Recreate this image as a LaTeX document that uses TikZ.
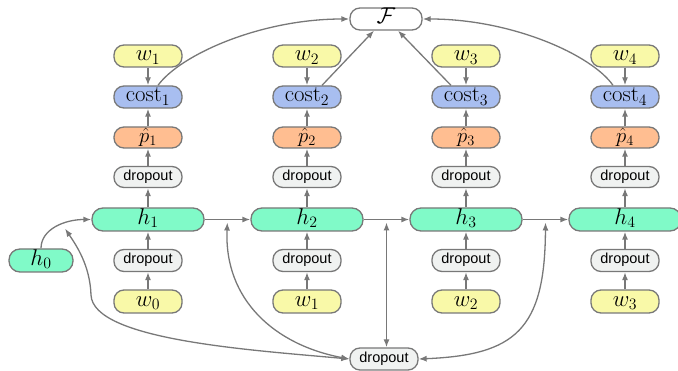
\documentclass[tikz,border=0pt]{standalone}
\usepackage{fontspec}
\usepackage{graphicx}
\newfontfamily\dropfont{Liberation Sans}
\usetikzlibrary{arrows.meta}
\pgfdeclarelayer{bg}
\pgfsetlayers{bg,main}
\definecolor{edgegray}{RGB}{120,120,120}
\definecolor{wyellow}{RGB}{249,249,168}
\definecolor{cblue}{RGB}{168,190,240}
\definecolor{porange}{RGB}{255,190,145}
\definecolor{dgray}{RGB}{240,242,241}
\definecolor{hgreen}{RGB}{128,250,200}
\newcommand{\mtxt}[1]{\scalebox{1.1}{$#1$}}
\begin{document}
\begin{tikzpicture}[x=1pt,y=1pt,
 box/.style={draw=edgegray, line width=1.3pt, rounded corners=10pt, minimum width=68pt, minimum height=22pt, inner sep=0pt, text height=15pt, text depth=5pt, font=\fontsize{20.74}{24}\selectfont},
 hbox/.style={box, fill=hgreen, minimum width=112pt, minimum height=23pt, rounded corners=11pt},
 wbox/.style={box, fill=wyellow},
 cbox/.style={box, fill=cblue},
 pbox/.style={draw=edgegray, line width=1.3pt, rounded corners=10pt, minimum width=68pt, minimum height=21pt, inner sep=0pt, fill=porange},
 dbox/.style={box, fill=dgray, font=\dropfont\fontsize{14.5}{17}\selectfont, text height=10.5pt, text depth=3.5pt, minimum height=21pt},
 fbox/.style={box, fill=white, minimum width=72pt},
 ptext/.style={inner sep=0pt, anchor=base, font=\fontsize{20.74}{24}\selectfont},
 arr/.style={draw=edgegray, line width=1.3pt, -{Latex[length=8pt,width=6pt]}},
 darr/.style={draw=edgegray, line width=1.3pt, {Latex[length=8pt,width=6pt]}-{Latex[length=8pt,width=6pt]}},
]
\useasboundingbox (0,0) rectangle (678,-371);

\node[fbox] (F) at (386,-19) {\mtxt{\mathcal{F}}};
\node[hbox, minimum width=64pt] (h0) at (41,-260.5) {\mtxt{h_0}};
\node[dbox, minimum height=22pt] (bd) at (384,-359) {dropout};

\foreach \i/\x/\j in {1/148/0, 2/307/1, 3/466/2, 4/625/3}{
  \node[wbox] (w\i) at (\x,-56) {\mtxt{w_\i}};
  \node[cbox] (c\i) at (\x,-97) {\mtxt{\mathrm{cost}_\i}};
  \node[pbox] (p\i) at (\x,-137.5) {};
  \node[ptext] (pt\i) at (\x,-142.5) {$\hat{p}_\i$};
  \node[dbox] (d\i) at (\x,-177) {dropout};
  \node[hbox] (h\i) at (\x,-219.5) {\mtxt{h_\i}};
  \node[dbox, minimum height=22pt] (e\i) at (\x,-260.5) {dropout};
  \node[wbox, minimum height=23pt] (v\i) at (\x,-301.5) {\mtxt{w_\j}};
  \begin{pgfonlayer}{bg}
  \draw[arr] (w\i) -- (c\i);
  \draw[arr] (p\i) -- (c\i);
  \draw[arr] (d\i) -- (p\i);
  \draw[arr] (h\i) -- (d\i);
  \draw[arr] (e\i) -- (h\i);
  \draw[arr] (v\i) -- (e\i);
  \end{pgfonlayer}
}

\begin{pgfonlayer}{bg}
% recurrent connections
\draw[arr] (h0.north) .. controls +(0,19) and +(-27,0) .. (h1.west);
\coordinate (m0) at (64,-227);
\draw[arr] (h1) -- coordinate (m1) (h2);
\draw[arr] (h2) -- coordinate (m2) (h3);
\draw[arr] (h3) -- coordinate (m3) (h4);

% shared dropout
\draw[darr, shorten <=2pt] (m0) .. controls (76,-245) and (90,-265) .. (91,-295)
   .. controls (93,-340) and (250,-350) .. (bd.west);
\draw[darr, shorten <=3pt] (m1) .. controls (224,-300) and (275,-345) .. (bd.west);
\draw[darr, shorten <=3pt] (m2) -- (m2 |- bd.north);
\draw[darr, shorten <=3pt] (m3) .. controls (545,-330) and (515,-355) .. (bd.east);

% costs to F
\draw[arr] ([xshift=10pt]c1.north) .. controls (180,-55) and (260,-19) .. (F.west);
\draw[arr] ([xshift=15pt]c2.north) -- ([xshift=-12pt]F.south);
\draw[arr] ([xshift=-15pt]c3.north) -- ([xshift=12pt]F.south);
\draw[arr] ([xshift=-12pt]c4.north) .. controls (592,-55) and (512,-19) .. (F.east);
\end{pgfonlayer}
\end{tikzpicture}
\end{document}
